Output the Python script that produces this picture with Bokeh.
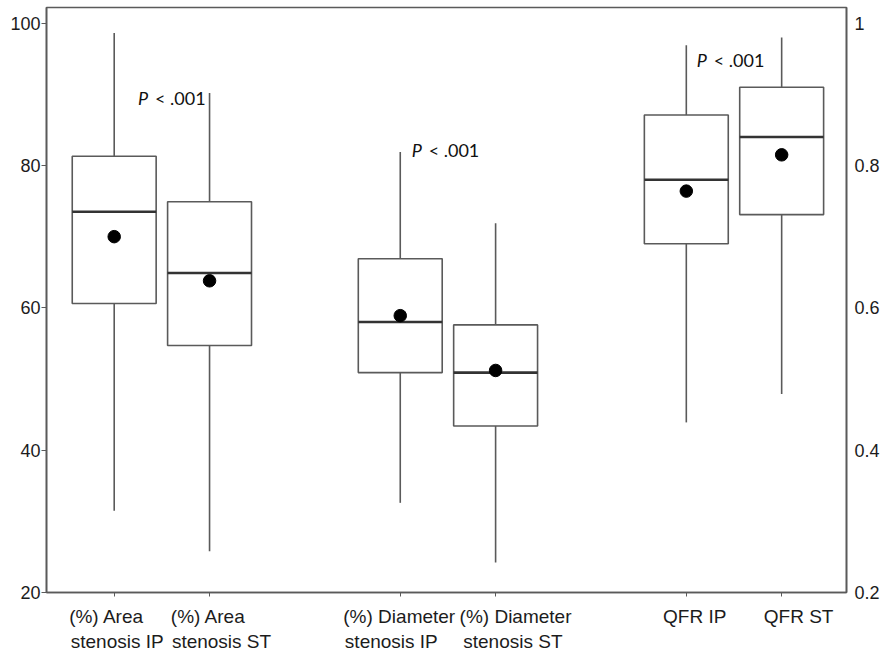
from bokeh.plotting import figure
from bokeh.models import (Range1d, LinearAxis, FixedTicker, NumeralTickFormatter,
                          ColumnDataSource)
from bokeh.core.properties import value
from bokeh.embed import file_html
from bokeh.resources import INLINE

# ---- data ----
categories = ["(%) Area\nstenosis IP", "(%) Area\nstenosis ST",
              "(%) Diameter\nstenosis IP", "(%) Diameter\nstenosis ST",
              "QFR IP", "QFR ST"]
positions = [1, 2, 4, 5, 7, 8]

# left-axis (percent) group
pct_pos = [1, 2, 4, 5]
pct_low = [31.5, 25.8, 32.6, 24.2]
pct_q1 = [60.6, 54.7, 50.9, 43.4]
pct_med = [73.5, 64.9, 58.0, 50.9]
pct_q3 = [81.3, 74.9, 66.9, 57.6]
pct_high = [98.6, 90.2, 81.9, 71.9]
pct_mean = [70.0, 63.8, 58.9, 51.2]

# right-axis (QFR) group
qfr_pos = [7, 8]
qfr_low = [0.439, 0.479]
qfr_q1 = [0.690, 0.731]
qfr_med = [0.780, 0.840]
qfr_q3 = [0.871, 0.910]
qfr_high = [0.969, 0.980]
qfr_mean = [0.764, 0.815]

left_ticks = [20, 40, 60, 80, 100]
right_ticks = [0.2, 0.4, 0.6, 0.8, 1.0]

# p-value annotations (x, y in left-axis units)
p_x = [1.25, 4.12, 7.11]
p_y = [89.5, 82.2, 94.8]
p_rest = ["< .001", "< .001", "< .001"]

# ---- style / layout ----
BOX_W = 0.88
EDGE = "#5a5a5a"
TXT = "#1c1c1c"
FONT = "Liberation Sans"
W, H = 882, 654
BL, BR, BT = 46, 33, 7
X0, X1 = 0.29, 8.68
label_dx = [3, 12, -1, 20, 8.5, 17]         # px shift of each category label block from its tick
pad_first = [4, 5, 0, 0, 0, 0]              # no-break spaces to left-justify the two lines
pad_second = [0, 0, 3, 1, 0, 0]

p = figure(width=W, height=H, output_backend="svg", toolbar_location=None,
           x_range=Range1d(X0, X1), y_range=Range1d(20, 102.2),
           min_border_left=BL, min_border_top=BT, min_border_right=BR, min_border_bottom=0)
p.extra_y_ranges = {"right": Range1d(0.2, 1.022)}
p.xgrid.visible = False
p.ygrid.visible = False
p.outline_line_color = EDGE
p.outline_line_width = 1.6
p.background_fill_color = "white"
p.border_fill_color = "white"

def draw(pos, low, q1, med, q3, high, mean, rng):
    src = ColumnDataSource(dict(x=pos, low=low, q1=q1, med=med, q3=q3, high=high, mean=mean,
                                xl=[x - BOX_W / 2 for x in pos], xr=[x + BOX_W / 2 for x in pos]))
    kw = {} if rng is None else {"y_range_name": rng}
    p.segment(x0="x", y0="q3", x1="x", y1="high", source=src, line_color=EDGE, line_width=1.6, **kw)
    p.segment(x0="x", y0="low", x1="x", y1="q1", source=src, line_color=EDGE, line_width=1.6, **kw)
    p.vbar(x="x", bottom="q1", top="q3", width=BOX_W, source=src, fill_color="white",
           line_color=EDGE, line_width=1.6, **kw)
    p.segment(x0="xl", y0="med", x1="xr", y1="med", source=src, line_color="#333333", line_width=2.6, **kw)
    p.scatter(x="x", y="mean", source=src, size=12.5, fill_color="black", line_color="black", **kw)

draw(pct_pos, pct_low, pct_q1, pct_med, pct_q3, pct_high, pct_mean, None)
draw(qfr_pos, qfr_low, qfr_q1, qfr_med, qfr_q3, qfr_high, qfr_mean, "right")

# p-value labels
psrc = ColumnDataSource(dict(x=p_x, y=p_y, rest=p_rest, pp=["P"] * len(p_x)))
p.text(x="x", y="y", text="pp", source=psrc, text_font=value("Lato"), text_font_style="italic",
       text_font_size="18px", text_color="#111111", text_baseline="middle", text_align="left")
p.text(x="x", y="y", text="rest", source=psrc, text_font=value("Lato"), x_offset=17,
       text_font_size="18px", text_color="#111111", text_baseline="middle", text_align="left")

# bottom axis: tick marks at the categories, no labels
ax_b = p.xaxis[0]
ax_b.ticker = FixedTicker(ticks=positions)
ax_b.major_label_overrides = {x: "" for x in positions}
ax_b.major_label_standoff = 0
ax_b.minor_tick_line_color = None
ax_b.major_tick_in = 0
ax_b.major_tick_out = 4
ax_b.axis_line_color = EDGE
ax_b.axis_line_width = 1.6
ax_b.major_tick_line_color = EDGE

# second bottom axis carrying the category names, placed like the original
NBSP = "\u00a0"
def justify(text, a, b):
    lines = text.split("\n")
    lines[0] = lines[0] + NBSP * a
    if len(lines) > 1:
        lines[1] = lines[1] + NBSP * b
    return "\n".join(lines)

px_per_unit = (W - BL - BR) / (X1 - X0)
label_x = [x + d / px_per_unit for x, d in zip(positions, label_dx)]
label_txt = [justify(t, a, b) for t, a, b in zip(categories, pad_first, pad_second)]
ax_c = LinearAxis(ticker=FixedTicker(ticks=label_x))
ax_c.major_label_overrides = {x: t for x, t in zip(label_x, label_txt)}
ax_c.axis_line_color = None
ax_c.major_tick_line_color = None
ax_c.minor_tick_line_color = None
ax_c.major_tick_out = 0
ax_c.major_tick_in = 0
ax_c.major_label_standoff = 9
ax_c.major_label_text_font = FONT
ax_c.major_label_text_font_size = "19px"
ax_c.major_label_text_color = TXT
p.add_layout(ax_c, "below")

ax_l = p.yaxis[0]
ax_l.ticker = FixedTicker(ticks=left_ticks)
ax_l.minor_tick_line_color = None
ax_l.major_tick_in = 0
ax_l.major_tick_out = 5
ax_l.axis_line_color = EDGE
ax_l.axis_line_width = 1.6
ax_l.major_tick_line_color = EDGE
ax_l.major_label_text_font = FONT
ax_l.major_label_text_font_size = "18px"
ax_l.major_label_text_color = TXT
ax_l.major_label_standoff = 1

ax_r = LinearAxis(y_range_name="right", ticker=FixedTicker(ticks=right_ticks),
                  formatter=NumeralTickFormatter(format="0.[0]"))
ax_r.minor_tick_line_color = None
ax_r.major_tick_in = 0
ax_r.major_tick_out = 0
ax_r.axis_line_color = EDGE
ax_r.axis_line_width = 1.6
ax_r.major_label_text_font = FONT
ax_r.major_label_text_font_size = "18px"
ax_r.major_label_text_color = TXT
ax_r.major_label_standoff = 8
p.add_layout(ax_r, "right")

open("out.html", "w").write(file_html(p, INLINE))
